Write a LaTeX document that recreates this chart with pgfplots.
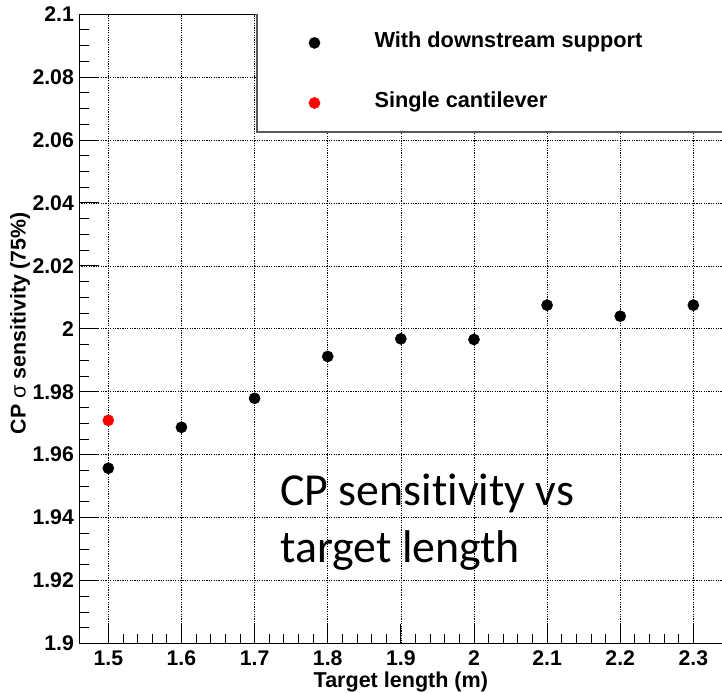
\documentclass[border=0pt]{standalone}
\usepackage{fontspec}
\setmainfont{Liberation Sans}
\newfontfamily\calibri[Ligatures=NoCommon]{Carlito}
\usepackage{pgfplots}
\pgfplotsset{compat=1.18}
\pgfplotsset{dotlegend/.style={legend image code/.code={\path[draw=none,fill=none] (-27bp,-10bp) rectangle (27bp,10bp); \draw[##1] plot coordinates {(0bp,-2.2bp)};}}}
\begin{document}
\begin{tikzpicture}
\begin{axis}[
  name=ax,
  scale only axis,
  width=643bp, height=629bp,
  xmin=1.46, xmax=2.34, ymin=1.9, ymax=2.1,
  xtick={1.5,1.6,1.7,1.8,1.9,2.0,2.1,2.2,2.3},
  ytick={1.9,1.92,1.94,1.96,1.98,2.0,2.02,2.04,2.06,2.08,2.1},
  minor x tick num=4, minor y tick num=3,
  tick pos=left, tick align=inside,
  major tick length=20bp, minor tick length=10bp,
  every tick/.style={black, line width=0.8bp},
  grid=major,
  major grid style={black, line width=0.6bp, dash pattern=on 1.2bp off 1.2bp},
  axis line style={black, line width=1bp},
  /pgf/number format/assume math mode=true,
  /pgf/number format/fixed,
  ticklabel style={font=\fontsize{21.3}{25}\selectfont\bfseries},
  xticklabel style={anchor=base, yshift=-22bp},
  yticklabel style={anchor=east, inner sep=0pt, xshift=-5bp},
  xlabel={Target length (m)},
  ylabel={CP {\mdseries σ} sensitivity (75\%)},
  every axis x label/.style={at={(rel axis cs:0.5,-0.07)}, anchor=base,
    font=\fontsize{21.6}{25}\selectfont\bfseries},
  every axis y label/.style={at={(rel axis cs:-0.083,0.509)}, rotate=90, anchor=base,
    font=\fontsize{21.4}{25}\selectfont\bfseries},
  legend style={at={(rel axis cs:0.3235,0.9738)}, anchor=north west, draw=none, fill=none,
    inner sep=0pt, row sep=40bp, column sep=33bp,
    font=\fontsize{21.8}{25}\selectfont\bfseries, nodes={inner sep=0pt}},
  legend cell align=left,
]
\fill[white] (rel axis cs:0.2768,1) rectangle (rel axis cs:1.01,0.8124);
\draw[black!65, line width=1.5bp] (rel axis cs:1.01,0.8124) -- (rel axis cs:0.2768,0.8124) -- (rel axis cs:0.2768,1);
\addplot[only marks, mark=*, mark size=5.6bp, black, dotlegend]
  coordinates {
  (1.5,1.9557) (1.6,1.9687) (1.7,1.9779) (1.8,1.9912) (1.9,1.9968)
  (2.0,1.9966) (2.1,2.0075) (2.2,2.0040) (2.3,2.0075)};
\addlegendentry{With downstream support}
\addplot[only marks, mark=*, mark size=5.6bp, red, dotlegend]
  coordinates {(1.5,1.9709)};
\addlegendentry{Single cantilever}
\end{axis}
\node[anchor=base west, inner sep=0pt, font=\calibri\fontsize{46}{56}\selectfont] at ([xshift=201bp, yshift=138bp]ax.south west) {CP sensitivity vs};
\node[anchor=base west, inner sep=0pt, font=\calibri\fontsize{46}{56}\selectfont] at ([xshift=201bp, yshift=81bp]ax.south west) {target length};
\pgfresetboundingbox
\path[use as bounding box] ([xshift=-79bp, yshift=-49bp]ax.south west) rectangle ([xshift=-0.6bp, yshift=14bp]ax.north east);
\end{tikzpicture}
\end{document}
